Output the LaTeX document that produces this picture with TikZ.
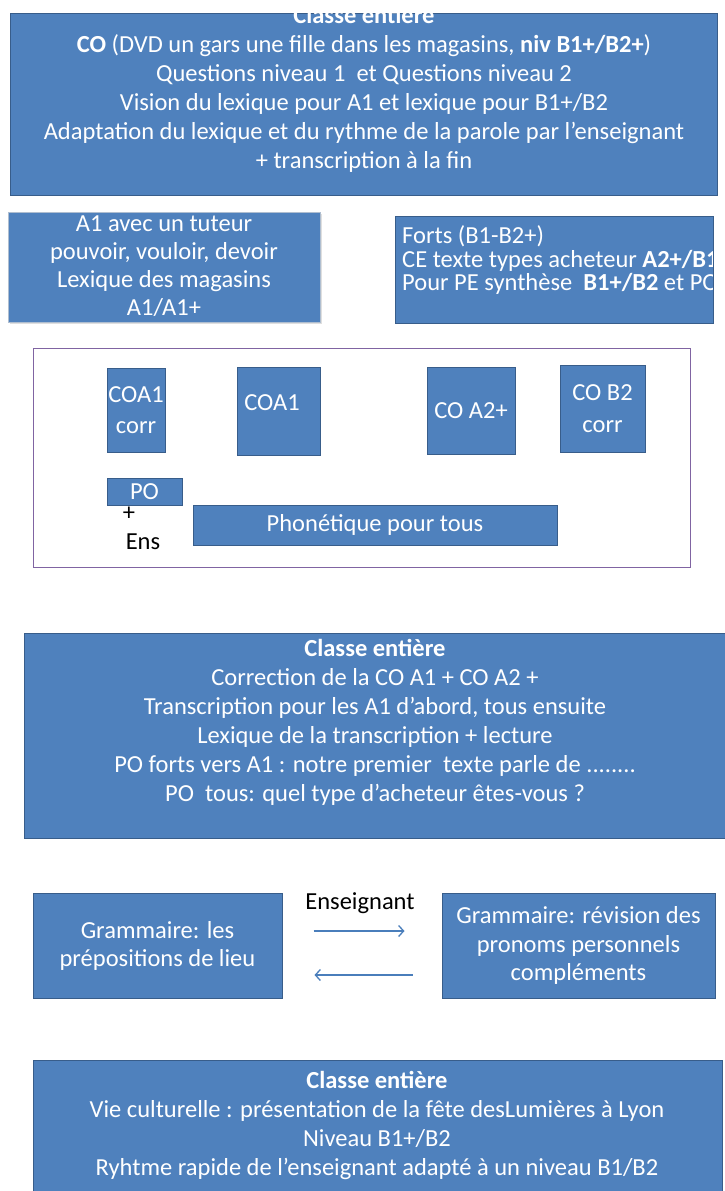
\documentclass[tikz,border=0pt]{standalone}
\usepackage{fontspec}
\setmainfont{Carlito}
\usetikzlibrary{positioning,calc,shadows,arrows.meta}
\definecolor{boxblue}{HTML}{4F81BD}
\definecolor{boxline}{HTML}{385D8A}
\definecolor{framepurple}{HTML}{8064A2}
\definecolor{arrowblue}{HTML}{4A7EBB}
\tikzset{
  bluebox/.style={draw=boxline, fill=boxblue, line width=1pt, inner sep=0pt},
  boxtext/.style={text=white, align=center, inner sep=0pt, font=\fontsize{24.5}{29}\selectfont},
  plaintext/.style={text=black, inner sep=0pt, font=\fontsize{24.5}{29}\selectfont},
  swaparrow/.style={draw=arrowblue, line width=1.3pt, -{Straight Barb[length=5pt,width=11pt]}},
}
\begin{document}
\begin{tikzpicture}[x=1pt,y=-1pt]
  \useasboundingbox (0,0) rectangle (725,1191);

  % whole class, start
  \node [bluebox, minimum width=707pt, minimum height=182pt] (classe1) at (363.5,104) {};
  \node [boxtext] (classe1txt) at (364,89.5) {\textbf{Classe entière}\\
    \textbf{CO} (DVD un gars une fille dans les magasins, \textbf{niv B1+/B2+})\\
    Questions niveau 1~ et Questions niveau 2\\
    Vision du lexique pour A1 et lexique pour B1+/B2\\
    Adaptation du lexique et du rythme de la parole par l’enseignant\\
    + transcription à la fin};
  \fill [white] (0,0) rectangle (725,12.5);

  % groups
  \node [bluebox, draw=boxline!40, drop shadow={opacity=0.25, shadow xshift=2pt, shadow yshift=-2pt},
    minimum width=312pt, minimum height=110pt] (tuteur) at (164,267) {};
  \node [boxtext, font=\fontsize{24.5}{28}\selectfont] (tuteurtxt) at (164,266) {A1 avec un tuteur\\
    pouvoir, vouloir, devoir\\
    Lexique des magasins\\
    A1/A1+};

  \node [bluebox, minimum width=318pt, minimum height=107pt] (forts) at (554,269.5) {};
  \begin{scope}
    \clip (forts.south west) rectangle ([xshift=-1pt]forts.north east);
    \node [boxtext, align=left, anchor=west, font=\fontsize{24.5}{23.5}\selectfont] (fortstxt) at (402,260.5) {Forts (B1-B2+)\\
      CE texte types acheteur \textbf{A2+/B1+}\\
      Pour PE synthèse~ \textbf{B1+/B2} et PO};
  \end{scope}

  % workshops
  \node [draw=framepurple, line width=1pt, minimum width=657pt, minimum height=219pt] (cadre) at (361.5,457.5) {};
  \node [bluebox, minimum width=58pt, minimum height=84pt, boxtext, font=\fontsize{24.5}{31}\selectfont] (coacorr) at (136,410) {COA1\\corr};
  \node [bluebox, minimum width=83pt, minimum height=88pt] (coa) at (278.5,411) {};
  \node [boxtext] (coatxt) at (272,403) {COA1};
  \node [bluebox, minimum width=88pt, minimum height=87pt, boxtext] (coatwo) at (471,410.5) {CO A2+};
  \node [bluebox, minimum width=85pt, minimum height=87pt, boxtext, font=\fontsize{24.5}{32}\selectfont] (cobtwo) at (602.5,409) {CO B2\\corr};
  \node [plaintext] (plus) at (129,514) {+};
  \node [bluebox, minimum width=75pt, minimum height=27pt, boxtext] (po) at (144.5,491.5) {PO};
  \node [plaintext] (ens) at (143,542) {Ens};
  \node [bluebox, minimum width=364pt, minimum height=40pt, boxtext] (phon) at (375,525) {Phonétique pour tous};

  % whole class, correction
  \node [bluebox, minimum width=716pt, minimum height=205pt] (classe2) at (382,735.5) {};
  \node [boxtext] (classe2txt) at (375,722) {\textbf{Classe entière}\\
    Correction de la CO A1 + CO A2 +\\
    Transcription pour les A1 d’abord, tous ensuite\\
    Lexique de la transcription + lecture\\
    PO forts vers A1 : notre premier~ texte parle de ........\\
    PO~ tous: quel type d’acheteur êtes-vous ?};

  % grammar
  \node [bluebox, minimum width=249pt, minimum height=105pt, boxtext, font=\fontsize{24.5}{28}\selectfont] (gramlieu) at (157.5,945.5) {Grammaire: les\\prépositions de lieu};
  \node [bluebox, minimum width=273pt, minimum height=105pt, boxtext, font=\fontsize{24.5}{28.5}\selectfont] (gramprons) at (578.5,945.5) {Grammaire: révision des\\pronoms personnels\\compléments};
  \node [plaintext] (enseignant) at (360,903) {Enseignant};
  \draw [swaparrow] ($(gramlieu.east)+(31,-14.5)$) -- ($(gramprons.west)+(-37,-14.5)$);
  \draw [swaparrow] ($(gramprons.west)+(-29,29.5)$) -- ($(gramlieu.east)+(32,29.5)$);

  % whole class, culture
  \node [bluebox, minimum width=689pt, minimum height=140pt] (classe3) at (377.5,1130) {};
  \node [boxtext] (classe3txt) at (377,1125) {\textbf{Classe entière}\\
    Vie culturelle : présentation de la fête desLumières à Lyon\\
    Niveau B1+/B2\\
    Ryhtme rapide de l’enseignant adapté à un niveau B1/B2};
\end{tikzpicture}
\end{document}
